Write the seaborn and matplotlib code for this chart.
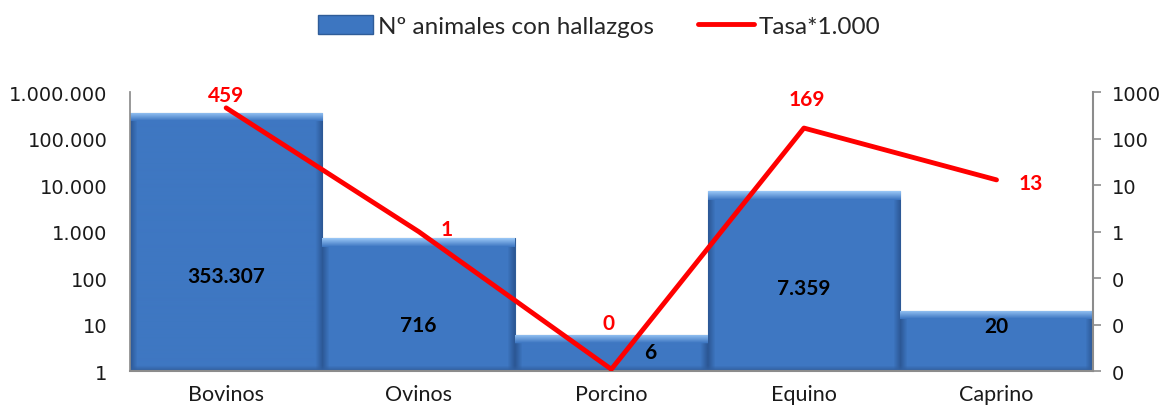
import numpy as np
import pandas as pd
import seaborn as sns
import matplotlib.pyplot as plt
from matplotlib.patches import Patch
from matplotlib.lines import Line2D
from matplotlib.ticker import FuncFormatter, FixedLocator, NullLocator
from matplotlib.transforms import IdentityTransform

# ===============================
# DATA
# ===============================
especies = ["Bovinos", "Ovinos", "Porcino", "Equino", "Caprino"]
animales = [353307, 716, 6, 7359, 20]
tasa = [459, 1.0, 0.0011, 169, 13]
tasa_txt = ["459", "1", "0", "169", "13"]

left_ticks = [1, 10, 100, 1e3, 1e4, 1e5, 1e6]
right_ticks = [1e-3, 1e-2, 1e-1, 1, 10, 100, 1000]

# where the bar labels sit (left axis value, x shift) and line label offsets (points)
BAR_LABEL_Y = [110, 10, 2.6, 60, 9.5]
BAR_LABEL_DX = [0, 0, 0.2, 0, 0]
LINE_LABEL_OFF = [(0, 9), (20, 2), (-2, 33), (2, 21), (25, -2)]

BLUE = "#3d76c1"
RED = "#ff0000"
GREY = "#8c8c8c"

sns.set_theme(style="white")
plt.rcParams["font.family"] = ["Lato", "DejaVu Sans"]

df = pd.DataFrame({"especie": especies, "animales": animales, "tasa": tasa})

fig = plt.figure(figsize=(11.7, 4.14), dpi=100)
ax = fig.add_axes([0.111, 0.101, 0.823, 0.674])

# ===============================
# BARS (left log axis)
# ===============================
ax.set_yscale("log")
sns.barplot(data=df, x="especie", y="animales", color=BLUE, width=1.0,
            saturation=1, edgecolor="#2f5c98", linewidth=0.8, ax=ax)
ax.set_ylim(1, 1e6)
ax.set_xlim(-0.5, len(especies) - 0.5)

# bevel look: gradient image clipped to every bar (pixel coordinates)
for p in ax.patches:
    (x0, y0), (x1, y1) = ax.transData.transform(
        [(p.get_x(), max(p.get_y(), 1)), (p.get_x() + p.get_width(), p.get_y() + p.get_height())])
    w, h = int(round(x1 - x0)), int(round(y1 - y0))
    if w < 2 or h < 2:
        continue
    img = np.zeros((h, w, 3))
    img[:] = np.array([62, 119, 194]) / 255
    band = min(9, h // 2)
    top_c = np.array([150, 196, 244]) / 255
    for i in range(band):
        t = i / max(band - 1, 1)
        img[i, :] = top_c * (1 - t) + img[band, 0] * t
    side = 7
    for j in range(side):
        t = j / side
        dark = np.array([44, 88, 150]) / 255
        img[band:, j] = dark * (1 - t) + img[band:, j] * t
        img[band:, w - 1 - j] = dark * (1 - t) + img[band:, w - 1 - j] * t
    for i in range(min(5, h - band)):
        t = i / 5
        img[h - 1 - i, :] = np.array([50, 96, 160]) / 255 * (1 - t) + img[h - 1 - i, :] * t
    im = ax.imshow(img, extent=(x0, x1, y0, y1), origin="upper",
                   interpolation="bilinear", aspect="auto", zorder=2.5)
    im.set_transform(IdentityTransform())
    im.set_clip_path(p)

ax.yaxis.set_major_locator(FixedLocator(left_ticks))
ax.yaxis.set_minor_locator(NullLocator())
ax.yaxis.set_major_formatter(FuncFormatter(lambda v, _: f"{int(round(v)):,}".replace(",", ".")))
ax.tick_params(axis="y", length=0, pad=16, labelsize=14, labelcolor="#1a1a1a")
for lab in ax.get_yticklabels():
    lab.set_fontfamily("DejaVu Sans")
ax.tick_params(axis="x", length=0, pad=9, labelsize=15.5, labelcolor="#1a1a1a")
ax.set_xlabel("")
ax.set_ylabel("")

for s in ["top", "right"]:
    ax.spines[s].set_visible(False)
ax.spines["left"].set_color(GREY)
ax.spines["bottom"].set_color(GREY)
ax.spines["bottom"].set_linewidth(1.5)

for i, v in enumerate(animales):
    ax.text(i + BAR_LABEL_DX[i], BAR_LABEL_Y[i], f"{v:,}".replace(",", "."),
            ha="center", va="center", fontsize=15, fontweight="bold",
            color="black", zorder=5)

# ===============================
# LINE (right log axis)
# ===============================
ax2 = ax.twinx()
ax2.set_yscale("log")
sns.lineplot(x=list(range(len(especies))), y=tasa, color=RED, linewidth=3.5,
             ax=ax2, sort=False)
ax2.set_ylim(1e-3, 1e3)
ax2.set_xlim(-0.5, len(especies) - 0.5)
ax2.yaxis.set_major_locator(FixedLocator(right_ticks))
ax2.yaxis.set_minor_locator(NullLocator())
ax2.yaxis.set_major_formatter(FuncFormatter(lambda v, _: f"{v:.0f}"))
ax2.tick_params(axis="y", length=6, width=1.2, color=GREY, pad=8,
                labelsize=14, labelcolor="#1a1a1a")
for lab in ax2.get_yticklabels():
    lab.set_fontfamily("DejaVu Sans")
for s in ["top", "left", "bottom"]:
    ax2.spines[s].set_visible(False)
ax2.spines["right"].set_color(GREY)
ax2.spines["right"].set_linewidth(1.5)

for i, v in enumerate(tasa):
    ax2.annotate(tasa_txt[i], (i, v), xytext=LINE_LABEL_OFF[i], textcoords="offset points",
                 ha="center", va="center", fontsize=15, fontweight="bold", color=RED)

# ===============================
# LEGEND
# ===============================
handles = [Patch(facecolor=BLUE, edgecolor="#2f5c98"),
           Line2D([0], [0], color=RED, linewidth=3.5)]
fig.legend(handles, ["Nº animales con hallazgos", "Tasa*1.000"], loc="center",
           bbox_to_anchor=(0.512, 0.935), ncol=2, frameon=False, fontsize=17.5,
           handlelength=2.3, handleheight=0.8, handletextpad=0.2, columnspacing=1.8)

fig.savefig("out.png", dpi=100)
